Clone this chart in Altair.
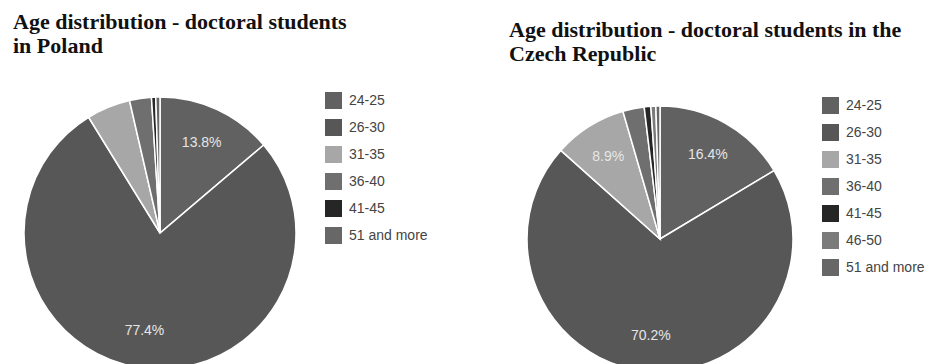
import altair as alt
import pandas as pd

# ---- data ----
categories_pl = ["24-25", "26-30", "31-35", "36-40", "41-45", "51 and more"]
values_pl = [13.8, 77.4, 5.2, 2.6, 0.5, 0.5]

categories_cz = ["24-25", "26-30", "31-35", "36-40", "41-45", "46-50", "51 and more"]
values_cz = [16.4, 70.2, 8.9, 2.6, 0.8, 0.6, 0.5]

title_pl = ["Age distribution - doctoral students", "in Poland"]
title_cz = ["Age distribution - doctoral students in the", "Czech Republic"]

palette = {
    "24-25": "#616161",
    "26-30": "#575757",
    "31-35": "#a7a7a7",
    "36-40": "#6f6f6f",
    "41-45": "#262626",
    "46-50": "#7b7b7b",
    "51 and more": "#676767",
}

LABEL_MIN = 6  # slices smaller than this carry no percentage label


def pie(cats, vals, title_lines, cx, cy, r, lx, ly, width, height, tdx, tdy):
    df = pd.DataFrame({"age": cats, "value": vals, "order": list(range(len(cats)))})
    df["label"] = [f"{v:.1f}%" if v > LABEL_MIN else "" for v in vals]
    base = alt.Chart(df).encode(
        theta=alt.Theta("value:Q", stack=True),
        order=alt.Order("order:Q"),
        x=alt.value(cx),
        y=alt.value(cy),
    )
    arcs = base.mark_arc(radius=r, stroke="white", strokeWidth=1.5).encode(
        color=alt.Color(
            "age:N",
            sort=cats,
            scale=alt.Scale(domain=cats, range=[palette[c] for c in cats]),
            legend=alt.Legend(
                title=None,
                orient="none",
                legendX=lx,
                legendY=ly,
                symbolType="square",
                symbolSize=289,
                symbolStrokeWidth=0,
                symbolOpacity=1,
                labelFont="Liberation Sans",
                labelFontSize=14,
                labelColor="#444444",
                labelOffset=7,
                rowPadding=10,
            ),
        )
    )
    text = base.mark_text(
        radius=r * 0.73, font="Liberation Sans", fontSize=14, color="#e6e6e6"
    ).encode(text="label:N")
    return alt.layer(arcs, text).properties(
        width=width,
        height=height,
        title=alt.TitleParams(
            text=title_lines,
            anchor="start",
            dx=tdx,
            dy=tdy,
            offset=5,
            font="Liberation Serif",
            fontSize=22,
            fontWeight="bold",
            lineHeight=24,
            color="#111111",
        ),
    )


left = pie(categories_pl, values_pl, title_pl, 152, 170, 136, 317, 29, 462, 300, 5, 0)
right = pie(categories_cz, values_cz, title_cz, 190, 176, 133, 352, 34, 467, 300, 39, 8)

chart = (
    alt.hconcat(left, right, spacing=0)
    .resolve_scale(color="independent", theta="independent")
    .properties(padding={"top": 3, "left": 0, "right": 0, "bottom": 0})
    .configure_view(stroke=None)
)

chart.save("out.html", embed_options={"renderer": "svg", "actions": False})
